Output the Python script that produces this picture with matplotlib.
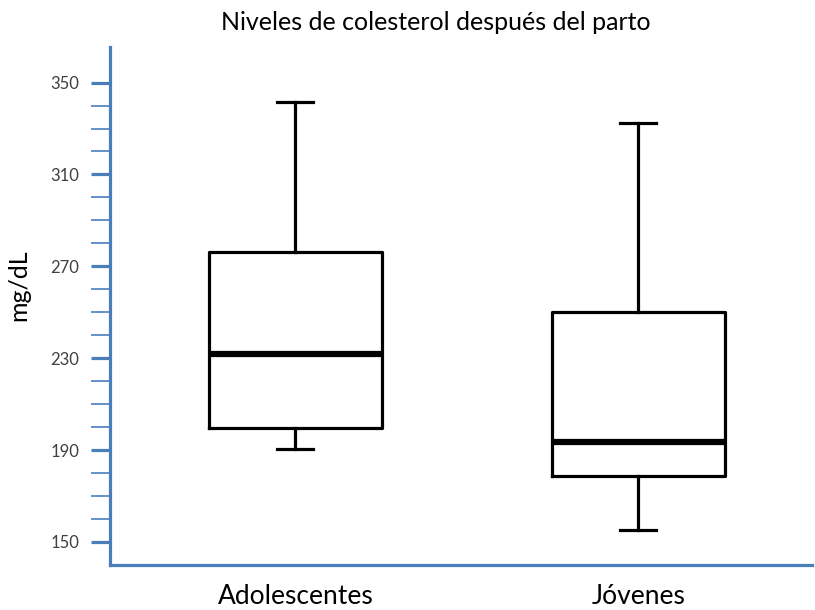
import matplotlib.pyplot as plt
from matplotlib.ticker import FixedLocator

# data
groups = ['Adolescentes', 'Jóvenes']
whis_lo = [190.5, 155.2]
q1 = [199.5, 178.9]
median = [231.9, 193.4]
q3 = [276.4, 250.0]
whis_hi = [341.7, 332.6]
major_ticks = [150, 190, 230, 270, 310, 350]
minor_ticks = [t for t in range(160, 350, 10) if t not in major_ticks]

blue = '#4a7ebb'
plt.rcParams['font.family'] = ['Lato', 'DejaVu Sans']

fig = plt.figure(figsize=(8.15, 6.1), dpi=100)
ax = fig.add_axes([0.135, 0.074, 0.861, 0.849])

stats = [dict(label=g, whislo=lo, q1=a, med=m, q3=b, whishi=hi)
         for g, lo, a, m, b, hi in zip(groups, whis_lo, q1, median, q3, whis_hi)]
ax.bxp(stats, positions=[1, 2], widths=0.504, capwidths=0.105, showfliers=False,
       boxprops=dict(color='black', linewidth=2.3),
       whiskerprops=dict(color='black', linewidth=2.3),
       capprops=dict(color='black', linewidth=2.3),
       medianprops=dict(color='black', linewidth=4.5))

ax.set_xlim(0.459, 2.506)
ax.set_ylim(140, 365.5)
ax.yaxis.set_major_locator(FixedLocator(major_ticks))
ax.yaxis.set_minor_locator(FixedLocator(minor_ticks))

for s in ['top', 'right']:
    ax.spines[s].set_visible(False)
for s in ['left', 'bottom']:
    ax.spines[s].set_color(blue)
    ax.spines[s].set_linewidth(2.3)

ax.tick_params(axis='y', which='major', length=14, width=2.3, color=blue,
               labelsize=12, labelcolor='#404040', pad=8)
ax.tick_params(axis='y', which='minor', length=14, width=1.2, color=blue)
ax.tick_params(axis='x', length=0, labelsize=19, pad=14)
ax.set_xticklabels(groups)

ax.set_ylabel('mg/dL', fontsize=18)
ax.yaxis.set_label_coords(-0.114, 0.54)
fig.text(0.535, 0.963, 'Niveles de colesterol después del parto',
         ha='center', va='center', fontsize=18)

plt.savefig('out.png', dpi=100)
plt.close()
